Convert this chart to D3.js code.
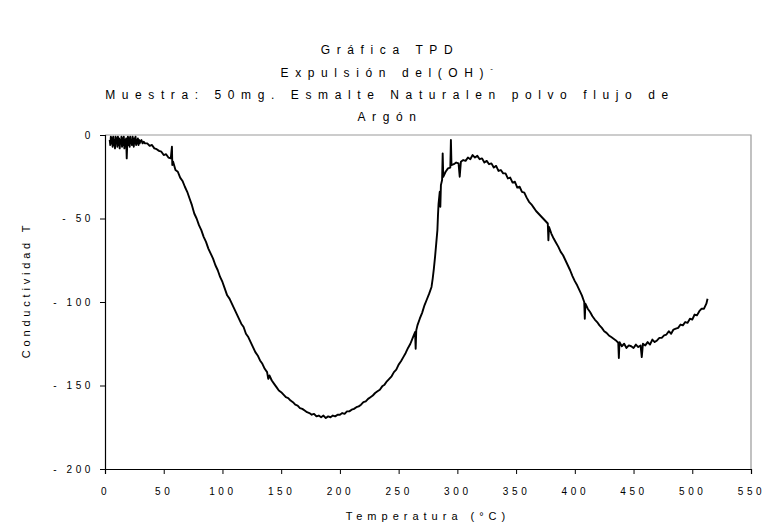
<!DOCTYPE html>
<head>
<meta charset="utf-8">
<script src="https://d3js.org/d3.v7.min.js"></script>
<style>
  body { margin: 0; background: #fff; font-family: "Liberation Sans", Arial, sans-serif; }
  .tick text { font-size: 10px; letter-spacing: 3.6px; fill: #000; }
  .titulo { font-size: 12px; letter-spacing: 6.6px; }
  .eje { font-size: 11px; }
</style>
</head>
<body>
<script>
// valores (temperatura en °C, conductividad)
var temperatura = [
  4, 4.5, 5, 5.5, 6, 6.5, 7, 7.5, 8, 8.5, 9, 9.5, 10, 10.5, 11, 11.5, 12, 12.5, 13, 13.5,
  14, 14.5, 15, 15.5, 16, 16.5, 17, 17.5, 18, 18.5, 19, 19.5, 20, 20.5, 21, 21.5, 22, 22.5, 23, 23.5,
  24, 24.5, 25, 25.5, 26, 26.5, 27, 27.5, 28, 28.5, 29, 29.5, 30, 31, 32, 33, 34,
  36, 38, 40, 42, 44, 46, 48, 50, 52, 54,
  56, 57, 57.3, 58, 60, 62, 64, 66, 68, 70, 72, 74, 76, 78, 80, 82, 84, 86, 88, 90,
  92, 94, 96, 98, 100, 102, 104, 106, 108, 110, 112, 114, 116, 118, 120, 122, 124, 126, 128, 130,
  132, 134, 136, 138, 139, 140, 142, 144, 146, 148, 150, 152, 154, 156, 158, 160, 162, 164, 166, 168,
  170, 172, 174, 176, 178, 180, 182, 184, 186, 188, 190, 192, 194, 196, 198, 200, 202, 204, 206, 208,
  210, 212, 214, 216, 218, 220, 222, 224, 226, 228, 230, 232, 234, 236, 238, 240, 242, 244, 246, 248,
  250, 252, 254, 256, 258, 260, 262, 264, 264.5, 265, 266, 268, 270, 272, 274, 276, 278, 279, 280, 281,
  282, 283, 283.5, 284, 285, 285.5, 286, 287, 287.5, 288, 290, 292, 294, 294.5, 295, 297, 299,
  301, 302, 303, 305, 307, 309, 311, 313, 315, 317, 319, 321, 323, 325, 327, 329, 331, 333, 335, 337,
  339, 341, 343, 345, 347, 349, 351, 353, 355, 357, 359,
  361, 363, 365, 367, 369, 371, 373, 375, 377, 377.5, 378, 380,
  382, 384, 386, 388, 390, 392, 394, 396, 398, 400, 402, 404, 406, 408, 408.5, 409, 411, 413, 415, 417,
  419, 421, 423, 425, 427, 429, 431, 433, 435,
  437, 437.5, 438, 440, 442, 444, 446, 448, 450, 452, 454, 456, 457, 458, 460, 462, 464, 466, 468, 470,
  472, 474, 476, 478, 480, 482, 484, 486, 488, 490, 492, 494, 496, 498, 500, 502, 504, 506, 508, 510,
  512, 513
];
var conductividad = [
  -3, -6, -1, -5, -2, -7, -1, -6, -3, -8, -1, -5, -2, -7, -1, -6, -2, -8, -3, -5,
  -1, -7, -2, -6, -1, -8, -3, -5, -2, -14, -4, -1, -6, -2, -7, -1, -5, -3, -6, -1,
  -4, -7, -2, -5, -1, -6, -3, -5, -2, -6, -3, -5, -4, -3, -5, -4, -5,
  -5, -6.5, -6, -8, -8.5, -9.5, -10, -12, -11.5, -13.5,
  -14, -7, -18, -16, -21, -22, -25.5, -27.5, -31, -34, -38, -42, -47, -50, -54, -57, -61, -64, -68, -71,
  -74, -78, -81, -85, -88, -92, -96, -98, -101, -104, -107, -110, -113, -115, -119, -121, -124, -127, -130, -132,
  -135, -137, -140, -142, -146, -144, -147, -149, -151, -153, -154, -155.5, -157, -157.5, -159, -160, -161.5, -162, -163.5, -164,
  -165, -166, -166.5, -167.5, -167, -168.5, -168, -169, -168, -169.5, -168.5, -169, -168, -168.5, -167.5, -167.5, -166.5, -167, -165.5, -165.5,
  -164.5, -164, -163, -162.5, -161.5, -160, -159.5, -158, -157, -156, -154.5, -153.5, -152.5, -150.5, -149.5, -147.5, -146, -144.5, -142, -140.5,
  -137.5, -135.5, -133, -130.5, -127.5, -125, -121.5, -118, -128, -117, -114, -110, -106.5, -102, -98.5, -95, -91, -86, -80, -73,
  -65, -57, -48, -41, -34, -43, -30, -27, -11, -25, -22, -20, -19.5, -3, -18, -17.5, -16.5,
  -17, -25, -16, -15, -15.5, -13.5, -14.5, -12, -13.5, -12.5, -14.5, -14, -16.5, -15.5, -17.5, -17, -19.5, -18.5, -21.5, -21,
  -23, -23, -26, -25.5, -28.5, -28, -31.5, -31, -34, -34.5, -37.5,
  -40, -41.5, -43.5, -45.5, -47, -48.5, -50, -51.5, -53, -63, -55, -59,
  -62, -64.5, -67, -70, -72, -75, -78, -81, -84.5, -87.5, -90, -93, -96, -100, -110, -101, -104, -106, -108.5, -110.5,
  -112, -114, -115.5, -117.5, -118.5, -120, -121, -122, -123,
  -124.5, -133.5, -124, -126.5, -125, -127.5, -126, -126.5, -127.5, -125.5, -127, -126, -133, -125, -126, -124, -125.5, -122.5, -124, -123,
  -121.5, -121.5, -120, -119.5, -117.5, -119, -116.5, -116, -115.5, -113.5, -114, -112, -112.5, -110, -110.5, -107.5, -108, -105.5, -104, -104,
  -101, -98
];
var ticksX = [0, 50, 100, 150, 200, 250, 300, 350, 400, 450, 500, 550];
var ticksY = [0, -50, -100, -150, -200];
var lineasTitulo = ["Gráfica TPD", "Expulsión del(OH)", "Muestra: 50mg. Esmalte Naturalen polvo flujo de", "Argón"];

var W = 771, H = 530;
var svg = d3.select("body").append("svg").attr("width", W).attr("height", H);

var x = d3.scaleLinear().domain([0, 550]).range([105, 751]);
var y = d3.scaleLinear().domain([-200, 0]).range([469, 135]);

// borde del area de trazado (gris arriba y a la derecha)
svg.append("path")
    .attr("d", "M" + x(0) + "," + y(0) + "H" + x(550) + "V" + y(-200))
    .attr("fill", "none").attr("stroke", "#999").attr("stroke-width", 1.2);

var fmt = function(d) { return d < 0 ? "- " + Math.abs(d) : d; };

svg.append("g")
    .attr("transform", "translate(0," + y(-200) + ")")
    .call(d3.axisBottom(x).tickValues(ticksX).tickSize(5).tickPadding(14).tickFormat(fmt))
    .call(function(g) { g.select(".domain").attr("stroke-width", 1.2); });

svg.append("g")
    .attr("transform", "translate(" + x(0) + ",0)")
    .call(d3.axisLeft(y).tickValues(ticksY).tickSize(5).tickPadding(6).tickFormat(fmt))
    .call(function(g) { g.select(".domain").attr("stroke-width", 1.2); });

var puntos = temperatura.map(function(t, i) { return [t, conductividad[i]]; });

svg.append("path")
    .datum(puntos)
    .attr("fill", "none")
    .attr("stroke", "#000")
    .attr("stroke-width", 1.9)
    .attr("stroke-linejoin", "round")
    .attr("d", d3.line().x(function(d) { return x(d[0]); }).y(function(d) { return y(d[1]); }));

// titulo
var tituloY = [54, 77, 99, 121];
lineasTitulo.forEach(function(s, i) {
    var t = svg.append("text").attr("class", "titulo")
        .attr("x", 390).attr("y", tituloY[i]).attr("text-anchor", "middle").text(s);
    if (i == 1) t.append("tspan").attr("dy", -6).attr("font-size", 8).text("-");
});

svg.append("text").attr("class", "eje")
    .attr("x", (x(0) + x(550)) / 2).attr("y", 520).attr("text-anchor", "middle")
    .attr("letter-spacing", 5)
    .text("Temperatura (°C)");

svg.append("text").attr("class", "eje")
    .attr("transform", "translate(30,290) rotate(-90)")
    .attr("text-anchor", "middle")
    .attr("letter-spacing", 3.8)
    .text("Conductividad T");
</script>
</body>
